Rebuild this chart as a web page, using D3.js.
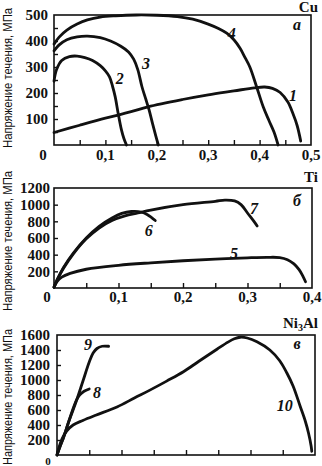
<!DOCTYPE html>
<html><head><meta charset="utf-8">
<script src="https://cdn.jsdelivr.net/npm/d3@7"></script>
<style>
html,body{margin:0;padding:0;background:#fff;}
svg{display:block;}
</style></head>
<body>
<svg id="c" width="322" height="466"></svg>
<script>
// ---------- DATA ----------
const yTitle = "Напряжение течения, МПа";

// Panel a: Cu
const cuCurve1 = [[0,48],[0.05,76],[0.1,103],[0.125,115],[0.15,128],[0.183,147],[0.25,175],[0.3,193],[0.35,208],[0.39,220],[0.41,223],[0.425,218],[0.44,202],[0.455,165],[0.465,120],[0.473,75],[0.48,15]];
const cuCurve2 = [[0,245],[0.005,290],[0.015,325],[0.03,340],[0.045,342],[0.06,336],[0.075,325],[0.09,305],[0.1,285],[0.108,262],[0.114,225],[0.119,186],[0.125,120],[0.131,60],[0.136,25],[0.141,0]];
const cuCurve3 = [[0,362],[0.01,385],[0.025,405],[0.045,416],[0.065,419],[0.09,413],[0.11,400],[0.13,380],[0.145,358],[0.155,330],[0.163,290],[0.171,225],[0.178,180],[0.185,135],[0.192,80],[0.198,35],[0.203,0]];
const cuCurve4 = [[0,388],[0.01,415],[0.025,442],[0.045,465],[0.065,481],[0.09,492],[0.12,497],[0.16,500],[0.2,499],[0.24,494],[0.27,484],[0.3,465],[0.32,448],[0.336,430],[0.35,405],[0.362,372],[0.372,335],[0.381,300],[0.394,225],[0.407,147],[0.418,95],[0.428,50],[0.436,0]];
const cuXTicks = [0.1,0.2,0.3,0.4,0.5];
const cuXTickLabels = ["0,1","0,2","0,3","0,4","0,5"];
const cuYTicks = [100,200,300,400,500];
const cuCurveLabels = [["4",0.346,431],["3",0.179,315],["2",0.128,258],["1",0.465,192]];

// Panel б: Ti
const tiCurve5 = [[0,10],[0.005,80],[0.012,130],[0.025,175],[0.05,225],[0.1,272],[0.15,302],[0.2,327],[0.25,347],[0.3,362],[0.33,368],[0.35,365],[0.362,340],[0.372,290],[0.38,220],[0.386,140],[0.39,75]];
const tiCurve6 = [[0,10],[0.005,100],[0.015,250],[0.03,420],[0.05,600],[0.07,740],[0.09,840],[0.105,895],[0.12,918],[0.135,912],[0.145,880],[0.157,810]];
const tiCurve7 = [[0,10],[0.005,100],[0.015,240],[0.03,410],[0.05,590],[0.07,720],[0.09,810],[0.11,865],[0.13,900],[0.15,935],[0.2,1000],[0.25,1040],[0.265,1055],[0.28,1045],[0.29,1000],[0.3,900],[0.31,800],[0.315,745]];
const tiXTicks = [0.1,0.2,0.3,0.4];
const tiXTickLabels = ["0,1","0,2","0,3","0,4"];
const tiYTicks = [200,400,600,800,1000,1200];
const tiCurveLabels = [["7",0.31,960],["6",0.147,696],["5",0.279,420]];

// Panel в: Ni3Al
const niCurve8 = [[0,0],[0.005,120],[0.01,230],[0.018,440],[0.025,620],[0.03,730],[0.035,800],[0.042,850],[0.05,880]];
const niCurve9 = [[0,0],[0.005,120],[0.01,230],[0.018,440],[0.03,720],[0.04,980],[0.05,1240],[0.056,1360],[0.062,1420],[0.07,1450],[0.08,1450]];
const niCurve10 = [[0,0],[0.003,100],[0.008,220],[0.015,320],[0.025,400],[0.04,460],[0.06,530],[0.093,640],[0.12,760],[0.144,865],[0.17,985],[0.196,1110],[0.22,1250],[0.248,1410],[0.265,1505],[0.275,1550],[0.284,1570],[0.295,1560],[0.31,1510],[0.33,1400],[0.345,1260],[0.356,1100],[0.366,920],[0.377,650],[0.385,450],[0.39,290],[0.394,120],[0.395,50]];
const niXTicks = [];
const niXTickLabels = [];
const niYTicks = [200,400,600,800,1000,1200,1400,1600];
const niCurveLabels = [["9",0.048,1480],["8",0.062,840],["10",0.353,667]];

// ---------- DRAW ----------
const svg = d3.select("#c");
const serif = "'Liberation Serif','Times New Roman',serif";
const sans = "'Liberation Sans',Arial,sans-serif";

function panel(cfg){
  const x = d3.scaleLinear().domain(cfg.xDomain).range(cfg.xRange);
  const y = d3.scaleLinear().domain(cfg.yDomain).range(cfg.yRange);
  const g = svg.append("g");
  g.append("rect").attr("x",cfg.xRange[0]).attr("y",cfg.yRange[1])
    .attr("width",cfg.xRange[1]-cfg.xRange[0]).attr("height",cfg.yRange[0]-cfg.yRange[1])
    .attr("fill","none").attr("stroke","#111").attr("stroke-width",1.6);
  const xa = d3.axisBottom(x).tickValues(d3.range(cfg.xDomain[0]+cfg.xMinor, cfg.xDomain[1]-1e-9, cfg.xMinor))
      .tickSize(-5).tickFormat("");
  const gx = g.append("g").attr("transform",`translate(0,${cfg.yRange[0]})`).call(xa);
  gx.select(".domain").remove();
  gx.selectAll("line").attr("stroke","#111").attr("stroke-width",1.4);
  const ya = d3.axisLeft(y).tickValues(d3.range(cfg.yDomain[0]+cfg.yMinor, cfg.yDomain[1]-1e-9, cfg.yMinor))
      .tickSize(-4).tickFormat("");
  const gy = g.append("g").attr("transform",`translate(${cfg.xRange[0]},0)`).call(ya);
  gy.select(".domain").remove();
  gy.selectAll("line").attr("stroke","#111").attr("stroke-width",1.4);
  g.selectAll(".yl").data(cfg.yTicks).enter().append("text")
    .attr("x",cfg.yLabelX).attr("y",d=>y(d)).attr("dy","0.35em")
    .attr("text-anchor","end").attr("font-family",serif).attr("font-size",15).attr("font-weight","bold")
    .attr("fill","#111").text(d=>d);
  g.selectAll(".xl").data(cfg.xTicks).enter().append("text")
    .attr("x",d=>x(d)).attr("y",cfg.yRange[0]+cfg.xLabelDy)
    .attr("text-anchor","middle").attr("font-family",serif).attr("font-size",15).attr("font-weight","bold")
    .attr("fill","#111").text((d,i)=>cfg.xTickLabels[i]);
  g.append("text").attr("x",cfg.zeroX).attr("y",cfg.yRange[0]+cfg.zeroDy)
    .attr("text-anchor","middle").attr("font-family",serif).attr("font-size",cfg.zeroSize||15).attr("font-weight","bold")
    .attr("fill","#111").text("0");
  const line = d3.line().x(d=>x(d[0])).y(d=>y(d[1])).curve(d3.curveCatmullRom.alpha(0.5));
  cfg.curves.forEach(c=>{
    g.append("path").attr("d",line(c)).attr("fill","none").attr("stroke","#111")
      .attr("stroke-width",2.8).attr("stroke-linejoin","round").attr("stroke-linecap","round");
  });
  g.selectAll(".cl").data(cfg.curveLabels).enter().append("text")
    .attr("x",d=>x(d[1])).attr("y",d=>y(d[2])).attr("dy","0.35em")
    .attr("text-anchor","middle").attr("font-family",serif).attr("font-style","italic")
    .attr("font-size",16).attr("font-weight","bold").attr("fill","#111").text(d=>d[0]);
  const nm = g.append("text").attr("x",318).attr("y",cfg.nameY).attr("text-anchor","end")
    .attr("font-family",serif).attr("font-size",15).attr("font-weight","bold").attr("fill","#111");
  cfg.name.forEach(p=>{
    const t = nm.append("tspan").text(p[0]);
    if(p[1]) t.attr("font-size",10).attr("dy",3);
    else if(p[2]) t.attr("dy",-3);
  });
  g.append("text").attr("x",297).attr("y",cfg.letterY).attr("text-anchor","middle")
    .attr("font-family",serif).attr("font-style","italic").attr("font-weight","bold").attr("font-size",16)
    .attr("fill","#111").text(cfg.letter);
  g.append("text").attr("transform",`translate(12,${cfg.titleY}) rotate(-90)`)
    .attr("text-anchor","middle").attr("font-family",sans).attr("font-size",12)
    .attr("textLength",cfg.titleLen||140).attr("lengthAdjust","spacingAndGlyphs")
    .attr("fill","#111").text(yTitle);
}

panel({xDomain:[0,0.5], xRange:[54,311], yDomain:[0,500], yRange:[145,15],
  xMinor:0.05, yMinor:50, yTicks:cuYTicks, xTicks:cuXTicks, xTickLabels:cuXTickLabels,
  yLabelX:48, xLabelDy:15, zeroX:43, zeroDy:15,
  curves:[cuCurve1,cuCurve2,cuCurve3,cuCurve4], curveLabels:cuCurveLabels,
  name:[["Cu"]], nameY:12, letter:"а", letterY:30, titleY:78});

panel({xDomain:[0,0.4], xRange:[54,312], yDomain:[0,1200], yRange:[288,188],
  xMinor:0.05, yMinor:200, yTicks:tiYTicks, xTicks:tiXTicks, xTickLabels:tiXTickLabels,
  yLabelX:50, xLabelDy:14, zeroX:47, zeroDy:14,
  curves:[tiCurve5,tiCurve6,tiCurve7], curveLabels:tiCurveLabels,
  name:[["Ti"]], nameY:182, letter:"б", letterY:206, titleY:241});

panel({xDomain:[0,0.4], xRange:[57,315], yDomain:[0,1600], yRange:[455,335],
  xMinor:0.05, yMinor:200, yTicks:niYTicks, xTicks:niXTicks, xTickLabels:niXTickLabels,
  yLabelX:50, xLabelDy:19, zeroX:48, zeroDy:10, zeroSize:11,
  curves:[niCurve8,niCurve9,niCurve10], curveLabels:niCurveLabels,
  name:[["Ni"],["3",true],["Al",false,true]], nameY:328, letter:"в", letterY:349, titleY:397, titleLen:136});
</script>
</body></html>
